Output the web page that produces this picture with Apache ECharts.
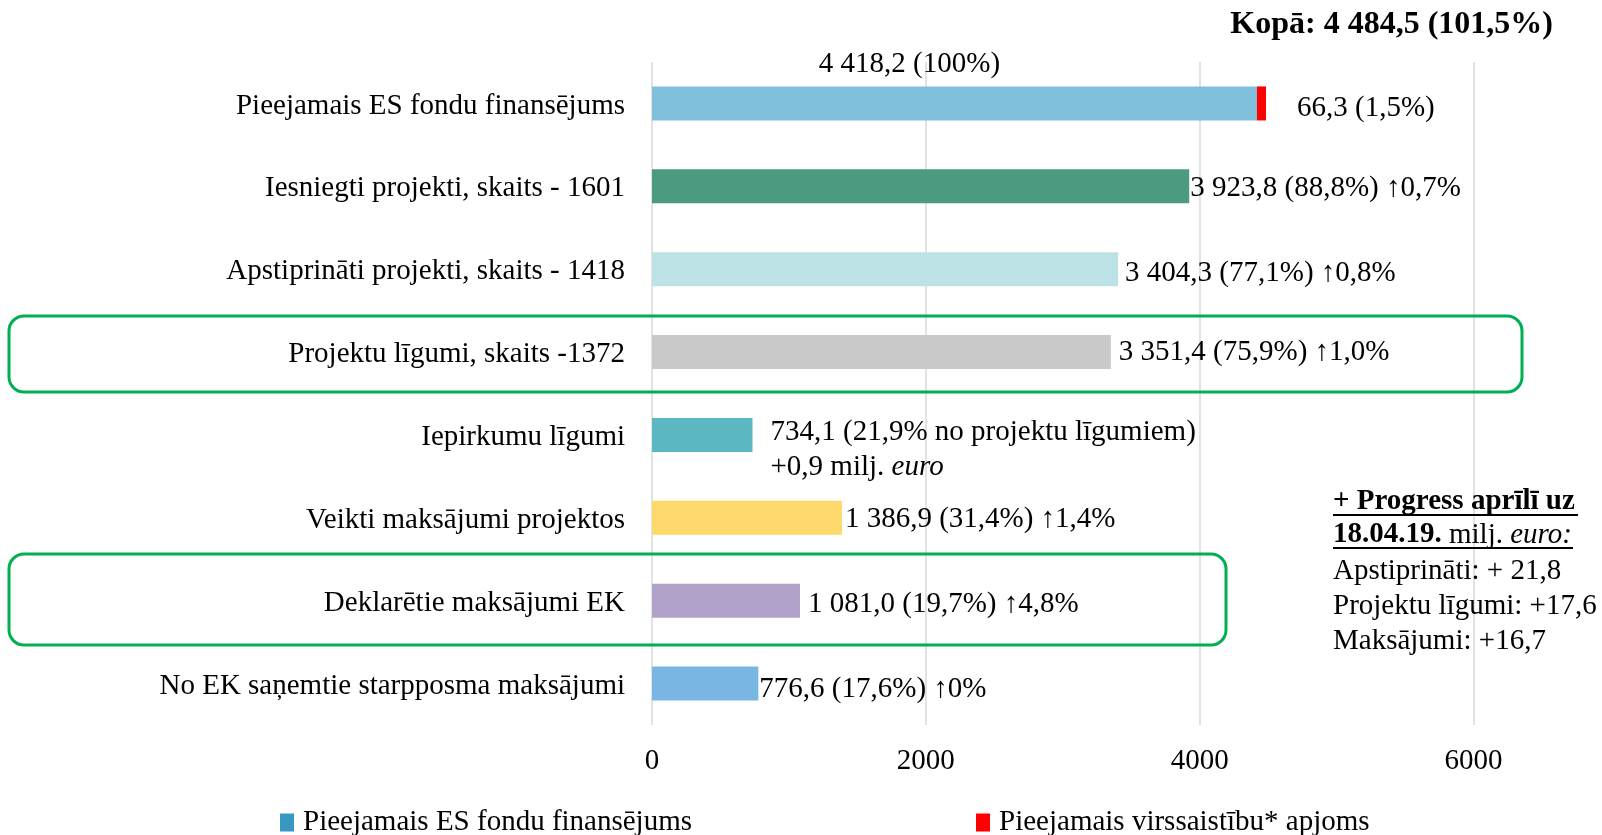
<!DOCTYPE html>
<html>
<head>
<meta charset="utf-8">
<script src="https://cdn.jsdelivr.net/npm/echarts@6/dist/echarts.min.js"></script>
<style>
  html, body { margin: 0; padding: 0; background: #fff; }
  #chart { width: 1602px; height: 835px; }
</style>
</head>
<body>
<div id="chart"></div>
<script>
// chart data
const categories = [
  'Pieejamais ES fondu finansējums',
  'Iesniegti projekti, skaits - 1601',
  'Apstiprināti projekti, skaits - 1418',
  'Projektu līgumi, skaits -1372',
  'Iepirkumu līgumi',
  'Veikti maksājumi projektos',
  'Deklarētie maksājumi EK',
  'No EK saņemtie starpposma maksājumi'
];
const fundValues = [4418.2, 3923.8, 3404.3, 3351.4, 734.1, 1386.9, 1081.0, 776.6];
const overValues = [66.3, null, null, null, null, null, null, null];
const valueLabels = [
  '4 418,2 (100%)',
  '3 923,8 (88,8%) ↑0,7%',
  '3 404,3 (77,1%) ↑0,8%',
  '3 351,4 (75,9%) ↑1,0%',
  '734,1 (21,9% no projektu līgumiem)\n+0,9 milj. {i|euro}',
  '1 386,9 (31,4%) ↑1,4%',
  '1 081,0 (19,7%) ↑4,8%',
  '776,6 (17,6%) ↑0%'
];
const overLabels = ['66,3 (1,5%)'];
const seriesNames = ['Pieejamais ES fondu finansējums', 'Pieejamais virssaistību* apjoms'];
const axisMin = 0, axisMax = 6000, axisStep = 2000;

// look
const FONT = '"Liberation Serif", "Times New Roman", serif';
const barColors = ['#80BFDB', '#4C9A80', '#BDE2E6', '#C9C9C9', '#5BB7C1', '#FDD96B', '#B0A1C9', '#7AB6E3'];
const labelPlace = [
  { position: 'top', distance: 5, offset: [-45, 0] },
  { distance: 1, offset: [0, 2] },
  { distance: 7, offset: [0, 4] },
  { distance: 8, offset: [0, 0] },
  { distance: 18, offset: [0, 15] },
  { distance: 3, offset: [0, 2] },
  { distance: 8, offset: [0, 4] },
  { distance: 1, offset: [0, 6] }
];

const chart = echarts.init(document.getElementById('chart'));

const fundData = fundValues.map((v, i) => ({
  value: v,
  itemStyle: { color: barColors[i] },
  label: Object.assign({ position: 'right' }, labelPlace[i])
}));

const greenBox = (x, y, w, h) => ({
  type: 'rect',
  shape: { x: x, y: y, width: w, height: h, r: 15 },
  style: { fill: 'none', stroke: '#00B050', lineWidth: 3 },
  z: 10
});

const txt = (x, y, text, extra) => ({
  type: 'text',
  x: x, y: y,
  style: Object.assign({
    text: text,
    fontFamily: FONT,
    fontSize: 29,
    fill: '#000',
    verticalAlign: 'middle'
  }, extra || {}),
  z: 10
});

chart.setOption({
  animation: false,
  backgroundColor: '#fff',
  grid: { left: 652, top: 62, width: 821.5, height: 663 },
  legend: {
    left: 275,
    top: 803,
    itemWidth: 14,
    itemHeight: 18,
    itemGap: 284,
    icon: 'rect',
    textStyle: { fontFamily: FONT, fontSize: 29, color: '#000', padding: [0, 0, 0, 4] },
    data: seriesNames
  },
  xAxis: {
    type: 'value',
    min: axisMin,
    max: axisMax,
    interval: axisStep,
    axisLine: { show: false },
    axisTick: { show: false },
    splitLine: { show: true, lineStyle: { color: '#D9D9D9', width: 1.5 } },
    axisLabel: { fontFamily: FONT, fontSize: 29, color: '#000', margin: 22, formatter: v => String(v) }
  },
  yAxis: {
    type: 'category',
    inverse: true,
    data: categories,
    axisLine: { show: false },
    axisTick: { show: false },
    splitLine: { show: false },
    axisLabel: {
      margin: 27,
      formatter: v => '{c|' + v + '}',
      rich: {
        c: { fontFamily: FONT, fontSize: 29, color: '#000', padding: [5, 0, 0, 0] }
      }
    }
  },
  series: [
    {
      name: seriesNames[0],
      type: 'bar',
      stack: 'total',
      barWidth: 34,
      itemStyle: { color: '#3A97C2' },
      label: {
        show: true,
        fontFamily: FONT,
        fontSize: 29,
        color: '#000',
        lineHeight: 35,
        formatter: p => valueLabels[p.dataIndex],
        rich: {
          i: { fontFamily: FONT, fontSize: 29, fontStyle: 'italic', color: '#000', lineHeight: 35 }
        }
      },
      data: fundData
    },
    {
      name: seriesNames[1],
      type: 'bar',
      stack: 'total',
      barWidth: 34,
      itemStyle: { color: '#FF0000' },
      label: {
        show: true,
        position: 'right',
        distance: 31,
        offset: [0, 5],
        fontFamily: FONT,
        fontSize: 29,
        color: '#000',
        formatter: p => overLabels[p.dataIndex] || ''
      },
      data: overValues
    }
  ],
  graphic: [
    greenBox(9, 316, 1513, 76),
    greenBox(9, 554, 1217, 91),
    txt(1553, 25, 'Kopā: 4 484,5 (101,5%)', { fontWeight: 'bold', fontSize: 32, align: 'right' }),
    txt(1333, 502, '+ Progress aprīlī uz', { fontWeight: 'bold' }),
    txt(1333, 535, '{b|18.04.19.} milj. {i|euro:}', {
      rich: {
        b: { fontFamily: FONT, fontSize: 29, fontWeight: 'bold', fill: '#000' },
        i: { fontFamily: FONT, fontSize: 29, fontStyle: 'italic', fill: '#000' }
      }
    }),
    txt(1333, 571, 'Apstiprināti: + 21,8'),
    txt(1333, 606, 'Projektu līgumi: +17,6'),
    txt(1333, 641, 'Maksājumi: +16,7'),
    { type: 'line', shape: { x1: 1333, y1: 515, x2: 1578, y2: 515 }, style: { stroke: '#000', lineWidth: 2 }, z: 10 },
    { type: 'line', shape: { x1: 1333, y1: 548, x2: 1573, y2: 548 }, style: { stroke: '#000', lineWidth: 2 }, z: 10 }
  ]
});
</script>
</body>
</html>
